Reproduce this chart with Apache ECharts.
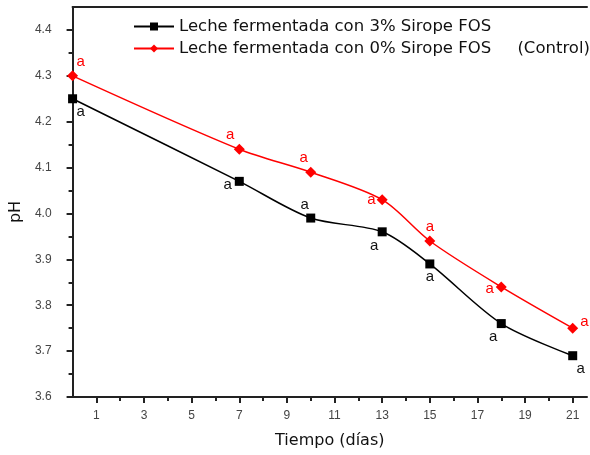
<!DOCTYPE html>
<html>
<head>
<meta charset="utf-8">
<script src="https://cdn.jsdelivr.net/npm/echarts@6/dist/echarts.min.js"></script>
<style>
  html, body { margin: 0; padding: 0; background: #fff; }
  #chart { width: 590px; height: 455px; }
</style>
</head>
<body>
<div id="chart"></div>
<script>
// días de almacenamiento
const days = [0, 7, 10, 13, 15, 18, 21];
// pH, leche fermentada con 3% sirope FOS
const ph3 = [4.25, 4.07, 3.99, 3.96, 3.89, 3.76, 3.69];
// pH, control (0% sirope FOS)
const ph0 = [4.30, 4.14, 4.09, 4.03, 3.94, 3.84, 3.75];
const sigLetters3 = ['a', 'a', 'a', 'a', 'a', 'a', 'a'];
const sigLetters0 = ['a', 'a', 'a', 'a', 'a', 'a', 'a'];

const xMajor = [1, 3, 5, 7, 9, 11, 13, 15, 17, 19, 21];
const xMinor = [2, 4, 6, 8, 10, 12, 14, 16, 18, 20];
const yMajor = [3.6, 3.7, 3.8, 3.9, 4.0, 4.1, 4.2, 4.3, 4.4];
const yMinor = [3.65, 3.75, 3.85, 3.95, 4.05, 4.15, 4.25, 4.35];

const seriesNames = [
  'Leche fermentada con 3% Sirope FOS',
  'Leche fermentada con 0% Sirope FOS     (Control)'
];

// where each "a" sits next to its point
const place3 = [
  ['bottom', [8, -3]], ['left', [1, 4]], ['top', [-6, 3]], ['bottom', [-8, -2]],
  ['bottom', [0, -3]], ['bottom', [-8, -3]], ['bottom', [8, -3]]
];
const place0 = [
  ['top', [8, 3]], ['top', [-9, 3]], ['top', [-7, 3]], ['left', [3, 0]],
  ['top', [0, 3]], ['left', [2, 2]], ['right', [-2, -6]]
];

const font = 'Liberation Sans, Arial, sans-serif';
const wideFont = 'DejaVu Sans, sans-serif';

function buildData(ys, letters, place, color) {
  return days.map((d, i) => ({
    value: [d, ys[i]],
    label: {
      show: true,
      formatter: letters[i],
      position: place[i][0],
      offset: place[i][1],
      distance: 4,
      color: color,
      fontSize: 15,
      fontFamily: font
    }
  }));
}

const chart = echarts.init(document.getElementById('chart'));

const axisLine = { show: true, lineStyle: { color: '#222', width: 2 } };

chart.setOption({
  animation: false,
  grid: { left: 72, right: 3, top: 7, bottom: 58 },
  legend: {
    orient: 'vertical',
    left: 128,
    top: 13,
    itemWidth: 40,
    itemHeight: 10,
    itemGap: 5,
    textStyle: { color: '#111', fontSize: 16.5, fontFamily: wideFont },
    data: seriesNames
  },
  xAxis: [
    {
      type: 'value',
      min: 0,
      max: 21.6,
      name: 'Tiempo (días)',
      nameLocation: 'middle',
      nameGap: 36,
      nameTextStyle: { color: '#111', fontSize: 16, fontFamily: wideFont },
      axisLine: axisLine,
      axisTick: { show: true, length: 6, customValues: xMajor, lineStyle: { color: '#222', width: 2 } },
      axisLabel: { customValues: xMajor, margin: 13, color: '#444', fontSize: 12, fontFamily: font },
      splitLine: { show: false }
    },
    {
      type: 'value',
      min: 0,
      max: 21.6,
      position: 'bottom',
      axisLine: { show: false },
      axisTick: { show: true, length: 4, customValues: xMinor, lineStyle: { color: '#222', width: 2 } },
      axisLabel: { show: false },
      splitLine: { show: false }
    },
    {
      type: 'value',
      min: 0,
      max: 21.6,
      position: 'top',
      axisLine: axisLine,
      axisTick: { show: false },
      axisLabel: { show: false },
      splitLine: { show: false }
    }
  ],
  yAxis: [
    {
      type: 'value',
      min: 3.6,
      max: 4.45,
      name: 'pH',
      nameLocation: 'middle',
      nameGap: 42,
      nameTextStyle: { color: '#111', fontSize: 16, fontFamily: wideFont, padding: [0, 20, 0, 0] },
      axisLine: axisLine,
      axisTick: { show: true, length: 6, customValues: yMajor, lineStyle: { color: '#222', width: 2 } },
      axisLabel: {
        customValues: yMajor,
        margin: 21,
        color: '#444',
        fontSize: 12,
        fontFamily: font,
        formatter: v => v.toFixed(1)
      },
      splitLine: { show: false }
    },
    {
      type: 'value',
      min: 3.6,
      max: 4.45,
      position: 'left',
      axisLine: { show: false },
      axisTick: { show: true, length: 4, customValues: yMinor, lineStyle: { color: '#222', width: 2 } },
      axisLabel: { show: false },
      splitLine: { show: false }
    }
  ],
  series: [
    {
      name: seriesNames[0],
      type: 'line',
      smooth: 0.3,
      symbol: 'rect',
      symbolSize: 9,
      clip: false,
      itemStyle: { color: '#000' },
      lineStyle: { color: '#000', width: 1.5 },
      data: buildData(ph3, sigLetters3, place3, '#111')
    },
    {
      name: seriesNames[1],
      type: 'line',
      smooth: 0.3,
      symbol: 'diamond',
      symbolSize: 11,
      clip: false,
      itemStyle: { color: '#ff0000' },
      lineStyle: { color: '#ff0000', width: 1.5 },
      data: buildData(ph0, sigLetters0, place0, '#ff0000')
    }
  ]
});
</script>
</body>
</html>
